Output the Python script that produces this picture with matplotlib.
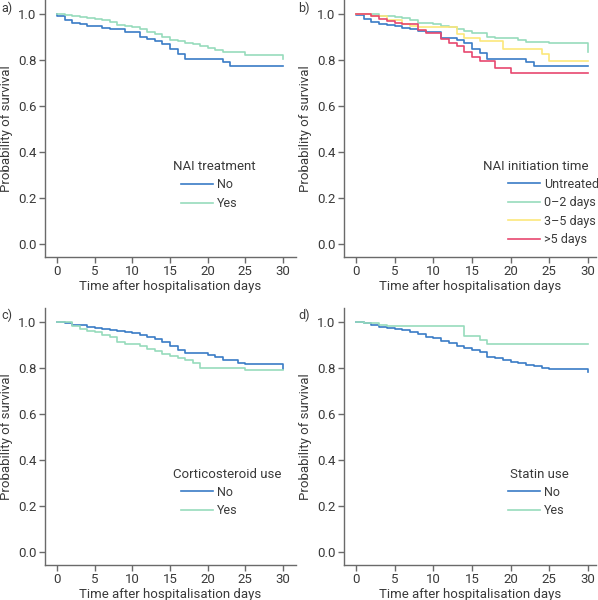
import matplotlib
matplotlib.use("Agg")
import matplotlib.pyplot as plt

plt.rcParams['font.family'] = ['Roboto', 'DejaVu Sans']

# ---------------- data ----------------
days_ticks = [0, 5, 10, 15, 20, 25, 30]
surv_ticks = [0.0, 0.2, 0.4, 0.6, 0.8, 1.0]
tick_labels_y = ["0.0", "0.2", "0.4", "0.6", "0.8", "1.0"]

# a) NAI treatment
a_no_t = [0, 0, 1, 2, 3, 4, 6, 7, 9, 11, 12, 13, 14, 15, 16, 17, 22, 23, 30]
a_no_s = [1.0, 0.991, 0.971, 0.959, 0.955, 0.949, 0.939, 0.933, 0.92, 0.899, 0.89, 0.881, 0.87, 0.849, 0.826, 0.803, 0.79, 0.771, 0.771]
a_yes_t = [0, 1, 2, 3, 4, 5, 6, 7, 8, 9, 10, 11, 12, 13, 14, 15, 16, 17, 18, 19, 20, 21, 22, 24, 25, 30]
a_yes_s = [1.0, 0.996, 0.991, 0.986, 0.981, 0.977, 0.971, 0.965, 0.952, 0.946, 0.941, 0.932, 0.922, 0.912, 0.899, 0.888, 0.88, 0.874, 0.867, 0.859, 0.851, 0.843, 0.836, 0.832, 0.819, 0.803]

# b) NAI initiation time
b_untr_t = [0, 0, 1, 2, 3, 4, 5, 6, 7, 8, 9, 11, 13, 14, 15, 16, 17, 22, 23, 30]
b_untr_s = [1.0, 0.994, 0.977, 0.964, 0.957, 0.951, 0.946, 0.94, 0.933, 0.927, 0.92, 0.894, 0.887, 0.874, 0.849, 0.829, 0.803, 0.789, 0.771, 0.771]
b_02_t = [0, 3, 5, 6, 7, 8, 10, 11, 12, 13, 14, 15, 17, 18, 21, 22, 25, 30]
b_02_s = [1.0, 0.991, 0.987, 0.98, 0.974, 0.962, 0.957, 0.949, 0.942, 0.933, 0.926, 0.917, 0.901, 0.893, 0.887, 0.878, 0.871, 0.836]
b_35_t = [0, 2, 4, 6, 7, 8, 13, 14, 16, 19, 24, 25, 30]
b_35_s = [1.0, 0.99, 0.975, 0.955, 0.948, 0.941, 0.912, 0.894, 0.881, 0.849, 0.825, 0.796, 0.796]
b_5p_t = [0, 2, 3, 4, 5, 6, 8, 9, 11, 12, 13, 14, 15, 16, 18, 20, 30]
b_5p_s = [1.0, 0.991, 0.977, 0.968, 0.961, 0.955, 0.93, 0.916, 0.89, 0.875, 0.858, 0.832, 0.814, 0.794, 0.766, 0.742, 0.742]

# c) Corticosteroid use
c_no_t = [0, 1, 2, 4, 5, 6, 7, 8, 9, 10, 11, 12, 13, 14, 15, 16, 17, 20, 21, 22, 24, 25, 30]
c_no_s = [1.0, 0.993, 0.986, 0.978, 0.972, 0.968, 0.964, 0.96, 0.955, 0.951, 0.943, 0.935, 0.926, 0.913, 0.893, 0.878, 0.864, 0.855, 0.845, 0.833, 0.823, 0.816, 0.797]
c_yes_t = [0, 2, 3, 4, 5, 6, 7, 8, 9, 11, 12, 13, 14, 15, 16, 17, 18, 19, 25, 30]
c_yes_s = [1.0, 0.982, 0.967, 0.961, 0.957, 0.942, 0.932, 0.914, 0.904, 0.893, 0.883, 0.872, 0.859, 0.851, 0.843, 0.833, 0.822, 0.801, 0.79, 0.79]

# d) Statin use
d_no_t = [0, 1, 2, 3, 4, 5, 6, 7, 8, 9, 10, 11, 12, 13, 14, 15, 16, 17, 18, 19, 20, 21, 22, 23, 24, 25, 30]
d_no_s = [0.997, 0.993, 0.988, 0.978, 0.975, 0.97, 0.964, 0.957, 0.945, 0.935, 0.928, 0.917, 0.906, 0.894, 0.884, 0.877, 0.867, 0.848, 0.841, 0.833, 0.826, 0.819, 0.812, 0.807, 0.8, 0.793, 0.783]
d_yes_t = [0, 1, 3, 4, 14, 16, 17, 30]
d_yes_s = [0.997, 0.993, 0.987, 0.981, 0.938, 0.92, 0.903, 0.903]

BLUE = "#3a7cc6"
GREEN = "#97dcbc"
YELLOW = "#fce77c"
RED = "#e8486f"
TXT = "#3a3a3a"
AX = "#6a6a6a"

W, H = 598, 600
fig = plt.figure(figsize=(W / 100, H / 100), dpi=100)
FS = 9.5
LFS = 9.0


def px_axes(left, right, bottom):
    return fig.add_axes([left / W, (H - bottom) / H, (right - left) / W, 257 / H])


def style(ax, xlim):
    ax.set_xlim(*xlim)
    ax.set_ylim(-0.057, 1.06)
    ax.set_xticks(days_ticks)
    ax.set_yticks(surv_ticks)
    ax.set_yticklabels(tick_labels_y)
    for s in ("top", "right"):
        ax.spines[s].set_visible(False)
    for s in ("left", "bottom"):
        ax.spines[s].set_color(AX)
        ax.spines[s].set_linewidth(1.0)
    ax.tick_params(direction="out", length=4, width=1, color=AX,
                   labelsize=FS, labelcolor=TXT, pad=2)
    ax.set_xlabel("Time after hospitalisation days", fontsize=FS, color=TXT, labelpad=1)
    ax.set_ylabel("Probability of survival", fontsize=FS, color=TXT, labelpad=4)


panels = [
    ("a)", 45, 296, 257, (-1.593, 31.73),
     [(a_no_t, a_no_s, BLUE, "No"), (a_yes_t, a_yes_s, GREEN, "Yes")],
     "NAI treatment", 173, 167, 181, 187),
    ("b)", 344, 596, 257, (-1.55, 31.03),
     [(b_untr_t, b_untr_s, BLUE, "Untreated"), (b_02_t, b_02_s, GREEN, "0\u20132 days"),
      (b_35_t, b_35_s, YELLOW, "3\u20135 days"), (b_5p_t, b_5p_s, RED, ">5 days")],
     "NAI initiation time", 483, 167, 508, 186),
    ("c)", 45, 296, 565, (-1.593, 31.73),
     [(c_no_t, c_no_s, BLUE, "No"), (c_yes_t, c_yes_s, GREEN, "Yes")],
     "Corticosteroid use", 173, 475, 181, 494),
    ("d)", 344, 596, 565, (-1.55, 31.03),
     [(d_no_t, d_no_s, BLUE, "No"), (d_yes_t, d_yes_s, GREEN, "Yes")],
     "Statin use", 510, 475, 508, 494),
]

fs_px = LFS * 100 / 72
for lab, l, r, b, xlim, series, title, tx, ty, hx, hy in panels:
    ax = px_axes(l, r, b)
    style(ax, xlim)
    handles = []
    for t, s, c, name in series:
        ln, = ax.step(t, s, where="post", color=c, lw=1.2, label=name)
        handles.append(ln)
    fig.text(tx / W, 1 - ty / H, title, fontsize=FS, color=TXT, va="center", ha="left")
    leg = ax.legend(handles=handles, loc="upper left",
                    bbox_to_anchor=(hx / W, 1 - (hy - 8.5) / H),
                    bbox_transform=fig.transFigure, frameon=False,
                    fontsize=LFS, handlelength=32 / fs_px, handletextpad=4 / fs_px,
                    labelspacing=0.45, borderpad=0, borderaxespad=0)
    for txt in leg.get_texts():
        txt.set_color(TXT)
    fig.text(1 / W if l < 100 else 298 / W, 1 - (8 if b < 300 else 315) / H, lab,
             fontsize=9, color=TXT, va="center", ha="left")

fig.savefig("out.png", dpi=100)
